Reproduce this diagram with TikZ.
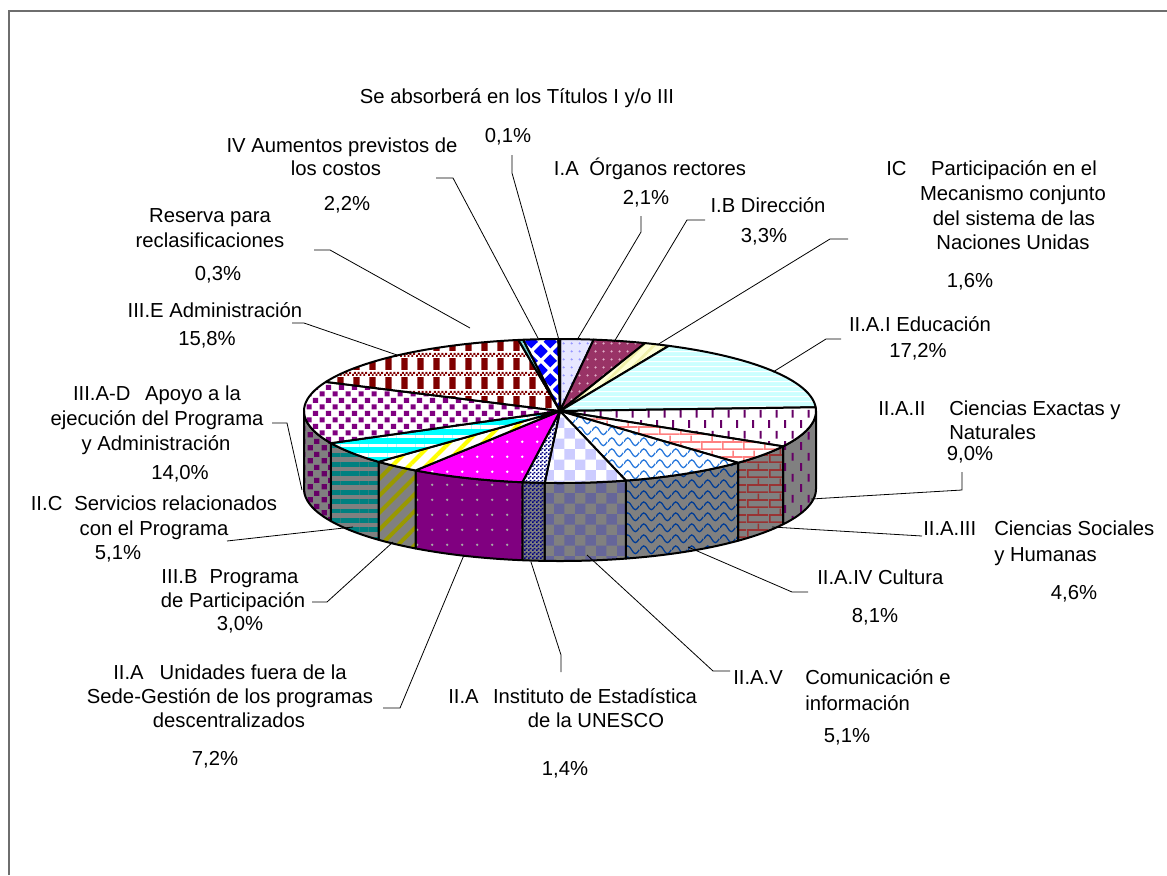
\documentclass[tikz,border=0pt]{standalone}
\usepackage{fontspec}
\setmainfont{Liberation Sans}
\usetikzlibrary{patterns,patterns.meta}

\definecolor{lav}{RGB}{230,230,255}
\definecolor{lavdot}{RGB}{150,150,255}
\definecolor{plum}{RGB}{153,51,102}
\definecolor{plumdot}{RGB}{225,175,200}
\definecolor{lyel}{RGB}{255,255,215}
\definecolor{lyelline}{RGB}{240,240,170}
\definecolor{lcyan}{RGB}{204,255,255}
\definecolor{dpurp}{RGB}{102,0,102}
\definecolor{pinkb}{RGB}{255,128,128}
\definecolor{redb}{RGB}{153,51,51}
\definecolor{wblue}{RGB}{40,120,220}
\definecolor{wdblue}{RGB}{0,60,150}
\definecolor{lchk}{RGB}{204,204,255}
\definecolor{dchk}{RGB}{102,102,153}
\definecolor{navy}{RGB}{0,0,128}
\definecolor{magen}{RGB}{255,0,255}
\definecolor{purp}{RGB}{128,0,128}
\definecolor{olive}{RGB}{153,153,0}
\definecolor{teal}{RGB}{0,128,128}
\definecolor{dred}{RGB}{128,0,0}
\definecolor{wallg}{RGB}{128,128,128}
\definecolor{resc}{RGB}{102,204,204}
\definecolor{framec}{RGB}{110,110,110}
\definecolor{pcyan}{RGB}{0,255,255}
\definecolor{pyellow}{RGB}{255,255,0}
\definecolor{pblue}{RGB}{0,0,255}

\tikzdeclarepattern{name=pdots,type=uncolored,
  bounding box={(0pt,0pt) and (6pt,6pt)},tile size={(6pt,6pt)},
  code={\fill (3pt,3pt) circle[radius=1pt];}}
\tikzdeclarepattern{name=sdots,type=uncolored,
  bounding box={(0pt,0pt) and (11pt,11pt)},tile size={(11pt,11pt)},
  code={\fill (5.5pt,5.5pt) circle[radius=1pt];}}
\tikzdeclarepattern{name=sqs,type=uncolored,
  bounding box={(0pt,0pt) and (10pt,10pt)},tile size={(10pt,10pt)},
  code={\fill (0.5pt,0.5pt) rectangle (4.5pt,4.5pt) (5.5pt,5.5pt) rectangle (9.5pt,9.5pt);}}
\tikzdeclarepattern{name=vdash,type=uncolored,
  bounding box={(0pt,0pt) and (12pt,16pt)},tile size={(12pt,16pt)},
  code={\fill (0pt,0pt) rectangle (1.6pt,6pt) (6pt,8pt) rectangle (7.6pt,14pt);}}
\tikzdeclarepattern{name=mybricks,type=uncolored,
  bounding box={(0pt,0pt) and (16pt,11pt)},tile size={(16pt,11pt)},
  code={\draw[line width=1.2pt] (0pt,0.6pt) -- (16pt,0.6pt) (0pt,6.1pt) -- (16pt,6.1pt)
        (0.6pt,0.6pt) -- (0.6pt,6.1pt) (8.6pt,6.1pt) -- (8.6pt,11pt);}}
\tikzdeclarepattern{name=waves,type=uncolored,
  bounding box={(0pt,0pt) and (12pt,8pt)},tile size={(12pt,8pt)},
  code={\draw[line width=1pt] (0pt,4pt) sin (3pt,7pt) cos (6pt,4pt) sin (9pt,1pt) cos (12pt,4pt);}}
\tikzdeclarepattern{name=checker,type=uncolored,
  bounding box={(0pt,0pt) and (16pt,16pt)},tile size={(16pt,16pt)},
  code={\fill (0pt,0pt) rectangle (8pt,8pt) (8pt,8pt) rectangle (16pt,16pt);}}
\tikzdeclarepattern{name=fchecker,type=uncolored,
  bounding box={(0pt,0pt) and (3pt,3pt)},tile size={(3pt,3pt)},
  code={\fill (0pt,0pt) rectangle (1.5pt,1.5pt) (1.5pt,1.5pt) rectangle (3pt,3pt);}}
\tikzdeclarepattern{name=diamonds,type=uncolored,
  bounding box={(0pt,0pt) and (14pt,14pt)},tile size={(14pt,14pt)},
  code={\fill (7pt,2pt) -- (12pt,7pt) -- (7pt,12pt) -- (2pt,7pt) -- cycle
        (0pt,-5pt) -- (5pt,0pt) -- (0pt,5pt) -- (-5pt,0pt) -- cycle
        (14pt,-5pt) -- (19pt,0pt) -- (14pt,5pt) -- (9pt,0pt) -- cycle
        (0pt,9pt) -- (5pt,14pt) -- (0pt,19pt) -- (-5pt,14pt) -- cycle
        (14pt,9pt) -- (19pt,14pt) -- (14pt,19pt) -- (9pt,14pt) -- cycle;}}
\tikzdeclarepattern{name=plaid,type=uncolored,
  bounding box={(0pt,0pt) and (12pt,14pt)},tile size={(12pt,14pt)},
  code={\fill (1pt,0pt) rectangle (6pt,9pt)
        (0pt,10pt) rectangle (1.5pt,11.5pt) (3pt,10pt) rectangle (4.5pt,11.5pt)
        (6pt,10pt) rectangle (7.5pt,11.5pt) (9pt,10pt) rectangle (10.5pt,11.5pt)
        (1.5pt,11.5pt) rectangle (3pt,13pt) (4.5pt,11.5pt) rectangle (6pt,13pt)
        (7.5pt,11.5pt) rectangle (9pt,13pt) (10.5pt,11.5pt) rectangle (12pt,13pt);}}

\newcommand\topslice[4]{%
  \path[preaction={fill=#3},#4,pieedge] (C) --
    plot[domain=#1:#2,samples=40,variable=\q] ({560+256*cos(\q)},{411-72*sin(\q)}) -- cycle;}
\newcommand\wallslice[4]{%
  \path[preaction={fill=#3},#4,pieedge]
    plot[domain=#1:#2,samples=40,variable=\q] ({560+256*cos(\q)},{411-72*sin(\q)}) --
    plot[domain=#2:#1,samples=40,variable=\q] ({560+256*cos(\q)},{489-72*sin(\q)}) -- cycle;}

\begin{document}
\begin{tikzpicture}[x=0.75pt,y=-0.75pt,
  pieedge/.style={draw=black,line width=1.5pt,line join=round},
  lab/.style={font=\fontsize{15.2}{18}\selectfont,inner sep=0pt,anchor=base},
  labw/.style={lab,anchor=base west},
  leader/.style={draw=black,line width=0.6pt}]
\useasboundingbox (0,0) rectangle (1167,875);
\draw[framec,line width=0.8pt] (9,875) -- (9,11) -- (1167,11);

\coordinate (C) at (560,411);

% walls (front)
\wallslice{0}{-29.40}{wallg}{pattern=vdash,pattern color=dpurp}
\wallslice{-29.40}{-45.94}{wallg}{pattern=mybricks,pattern color=redb}
\wallslice{-45.94}{-75.07}{wallg}{pattern=waves,pattern color=wdblue}
\wallslice{-75.07}{-93.42}{wallg}{pattern=checker,pattern color=dchk}
\wallslice{-93.42}{-98.45}{wallg}{pattern=fchecker,pattern color=navy}
\wallslice{-98.45}{-124.35}{purp}{pattern=sdots,pattern color=wallg!70!white}
\wallslice{-124.35}{-135.13}{wallg}{pattern={Lines[angle=45,distance=9pt,line width=3pt]},pattern color=olive}
\wallslice{-135.13}{-153.48}{wallg}{pattern={Lines[angle=0,distance=7pt,line width=3.5pt]},pattern color=teal}
\wallslice{-153.48}{-180}{wallg}{pattern=sqs,pattern color=dpurp}

% top faces
\topslice{90}{82.45}{lav}{pattern=pdots,pattern color=lavdot}
\topslice{82.45}{70.58}{plum}{pattern=pdots,pattern color=plumdot}
\topslice{70.58}{64.83}{lyel}{pattern={Lines[angle=45,distance=6pt,line width=2pt]},pattern color=lyelline}
\topslice{64.83}{2.97}{lcyan}{pattern={Lines[angle=0,distance=4pt,line width=1pt]},pattern color=white}
\topslice{2.97}{-29.40}{white}{pattern=vdash,pattern color=dpurp}
\topslice{-29.40}{-45.94}{white}{pattern=mybricks,pattern color=pinkb}
\topslice{-45.94}{-75.07}{white}{pattern=waves,pattern color=wblue}
\topslice{-75.07}{-93.42}{white}{pattern=checker,pattern color=lchk}
\topslice{-93.42}{-98.45}{white}{pattern=fchecker,pattern color=navy}
\topslice{-98.45}{-124.35}{magen}{pattern=sdots,pattern color=white}
\topslice{-124.35}{-135.13}{white}{pattern={Lines[angle=45,distance=9pt,line width=3pt]},pattern color=pyellow}
\topslice{-135.13}{-153.48}{pcyan}{pattern={Lines[angle=0,distance=7pt,line width=2.5pt]},pattern color=white}
\topslice{-153.48}{-203.83}{white}{pattern=sqs,pattern color=purp}
\topslice{-203.83}{-260.65}{white}{pattern=plaid,pattern color=dred}
\topslice{-260.65}{-261.73}{resc}{pattern=pdots,pattern color=white}
\topslice{-261.73}{-269.64}{white}{pattern=diamonds,pattern color=pblue}
\topslice{-269.64}{-270}{white}{pattern=pdots,pattern color=white}

% labels
\node[lab] (tabs) at (517,103) {Se absorberá en los Títulos I y/o III};
\node[lab] (pabs) at (508,142) {0,1\%};
\node[lab] (tiv1) at (342,152) {IV Aumentos previstos de};
\node[lab] (tiv2) at (336,175) {los costos};
\node[lab] (piv) at (347,210) {2,2\%};
\node[lab] (tres1) at (210,222) {Reserva para};
\node[lab] (tres2) at (210,247) {reclasificaciones};
\node[lab] (pres) at (218,280) {0,3\%};
\node[lab] (tiiie) at (215,317) {III.E Administración};
\node[lab] (piiie) at (207,345) {15,8\%};
\node[lab] (tad1) at (157,400) {III.A-D\hspace{11pt}Apoyo a la};
\node[lab] (tad2) at (157,425) {ejecución del Programa};
\node[lab] (tad3) at (156,450) {y Administración};
\node[lab] (pad) at (180,479) {14,0\%};
\node[lab] (tic1) at (154,510) {II.C\hspace{9pt}Servicios relacionados};
\node[lab] (tic2) at (154,535) {con el Programa};
\node[lab] (pic) at (118,559) {5,1\%};
\node[lab] (tib1) at (230,583) {III.B\hspace{9pt}Programa};
\node[lab] (tib2) at (233,607) {de Participación};
\node[lab] (pib) at (240,630) {3,0\%};
\node[lab] (tun1) at (230,679) {II.A\hspace{12pt}Unidades fuera de la};
\node[lab] (tun2) at (230,703) {Sede-Gestión de los programas};
\node[lab] (tun3) at (229,727) {descentralizados};
\node[lab] (pun) at (215,765) {7,2\%};
\node[labw] (cins) at (448,703) {II.A};
\node[lab] (tins1) at (595,703) {Instituto de Estadística};
\node[lab] (tins2) at (596,727) {de la UNESCO};
\node[lab] (pins) at (565,775) {1,4\%};
\node[labw] (cv) at (733,684) {II.A.V};
\node[labw] (tv1) at (805,684) {Comunicación e};
\node[labw] (tv2) at (805,710) {información};
\node[lab] (pv) at (847,742) {5,1\%};
\node[labw] (tcu) at (817,584) {II.A.IV Cultura};
\node[lab] (pcu) at (875,622) {8,1\%};
\node[labw] (ciii) at (923,535) {II.A.III};
\node[labw] (tiii1) at (994,535) {Ciencias Sociales};
\node[labw] (tiii2) at (994,561) {y Humanas};
\node[lab] (piii) at (1074,599) {4,6\%};
\node[labw] (cii) at (878,415) {II.A.II};
\node[labw] (tii1) at (949,415) {Ciencias Exactas y};
\node[labw] (tii2) at (949,439) {Naturales};
\node[lab] (pii) at (970,460) {9,0\%};
\node[lab] (ti) at (920,331) {II.A.I Educación};
\node[lab] (pi) at (918,357) {17,2\%};
\node[labw] (cic) at (886,175) {IC};
\node[lab] (tic1b) at (1014,175) {Participación en el};
\node[lab] (tic2b) at (1013,200) {Mecanismo conjunto};
\node[lab] (tic3b) at (1014,225) {del sistema de las};
\node[lab] (tic4b) at (1013,249) {Naciones Unidas};
\node[lab] (picb) at (970,287) {1,6\%};
\node[lab] (tb) at (768,212) {I.B Dirección};
\node[lab] (pb) at (764,242) {3,3\%};
\node[lab] (ta) at (650,175) {I.A\hspace{8pt}Órganos rectores};
\node[lab] (pa) at (646,204) {2,1\%};

% leader points
\coordinate (a1) at (512,155); \coordinate (a2) at (512,173); \coordinate (a3) at (559,340);
\coordinate (b1) at (436,178); \coordinate (b2) at (453,178); \coordinate (b3) at (539,340);
\coordinate (c1) at (314,250); \coordinate (c2) at (330,250); \coordinate (c3) at (470,328);
\coordinate (d1) at (292,323); \coordinate (d2) at (304,323); \coordinate (d3) at (397,355);
\coordinate (e1) at (272,423); \coordinate (e2) at (287,423); \coordinate (e3) at (302,490);
\coordinate (f1) at (227,541); \coordinate (f3) at (353,527);
\coordinate (g1) at (312,602); \coordinate (g2) at (327,602); \coordinate (g3) at (393,542);
\coordinate (h1) at (383,708); \coordinate (h2) at (400,708); \coordinate (h3) at (464,555);
\coordinate (i1) at (561,672); \coordinate (i2) at (561,655); \coordinate (i3) at (531,562);
\coordinate (j1) at (730,671); \coordinate (j2) at (713,671); \coordinate (j3) at (587,555);
\coordinate (k1) at (808,592); \coordinate (k2) at (792,592); \coordinate (k3) at (688,547);
\coordinate (m1) at (922,536); \coordinate (m3) at (772,527);
\coordinate (n1) at (962,472); \coordinate (n2) at (962,490); \coordinate (n3) at (811,499);
\coordinate (o1) at (841,339); \coordinate (o2) at (826,339); \coordinate (o3) at (773,372);
\coordinate (q1) at (848,239); \coordinate (q2) at (830,239); \coordinate (q3) at (657,345);
\coordinate (r1) at (705,220); \coordinate (r2) at (687,220); \coordinate (r3) at (614,342);
\coordinate (s1) at (641,216); \coordinate (s2) at (641,232); \coordinate (s3) at (577,340);

\draw[leader] (a1) -- (a2) -- (a3);
\draw[leader] (b1) -- (b2) -- (b3);
\draw[leader] (c1) -- (c2) -- (c3);
\draw[leader] (d1) -- (d2) -- (d3);
\draw[leader] (e1) -- (e2) -- (e3);
\draw[leader] (f1) -- (f3);
\draw[leader] (g1) -- (g2) -- (g3);
\draw[leader] (h1) -- (h2) -- (h3);
\draw[leader] (i1) -- (i2) -- (i3);
\draw[leader] (j1) -- (j2) -- (j3);
\draw[leader] (k1) -- (k2) -- (k3);
\draw[leader] (m1) -- (m3);
\draw[leader] (n1) -- (n2) -- (n3);
\draw[leader] (o1) -- (o2) -- (o3);
\draw[leader] (q1) -- (q2) -- (q3);
\draw[leader] (r1) -- (r2) -- (r3);
\draw[leader] (s1) -- (s2) -- (s3);
\end{tikzpicture}
\end{document}
